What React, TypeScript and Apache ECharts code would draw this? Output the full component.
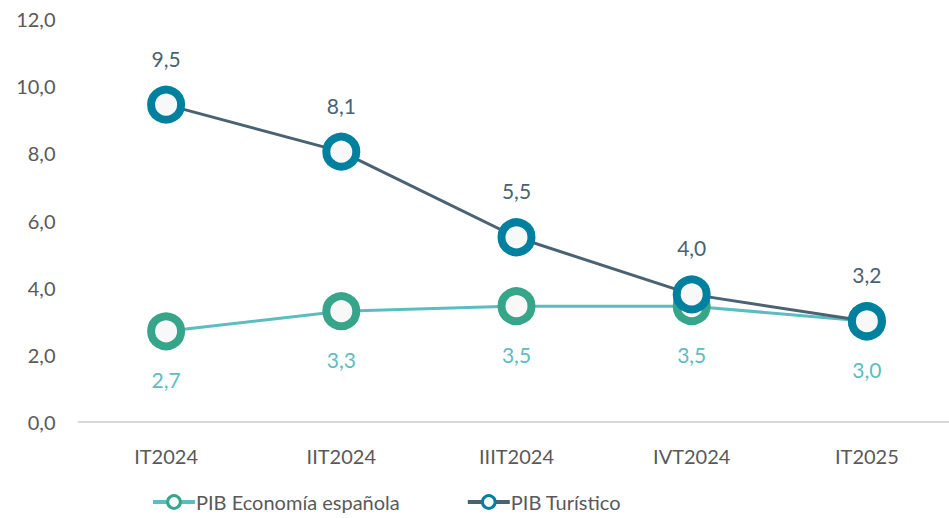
import React, { useEffect, useRef } from "react";
import * as echarts from "echarts";

const categories = ["IT2024", "IIT2024", "IIIT2024", "IVT2024", "IT2025"];
const economiaValues = [2.7, 3.3, 3.45, 3.45, 3.0];
const economiaLabels = ["2,7", "3,3", "3,5", "3,5", "3,0"];
const turisticoValues = [9.45, 8.05, 5.5, 3.8, 3.0];
const turisticoLabels = ["9,5", "8,1", "5,5", "4,0", "3,2"];
const yTicks = { min: 0, max: 12, interval: 2 };

const FONT = "Lato, 'Open Sans', sans-serif";

export default function App() {
  const ref = useRef<HTMLDivElement>(null);
  useEffect(() => {
    if (!ref.current) return;
    const chart = echarts.init(ref.current, null, { renderer: "svg" });
    chart.setOption({
      animation: false,
      backgroundColor: "#ffffff",
      textStyle: { fontFamily: FONT },
      grid: {
        left: 78.5,
        width: 876,
        top: 19,
        bottom: 96,
        containLabel: false,
        outerBoundsMode: "none",
      },
      legend: {
        left: 146,
        top: 487,
        itemWidth: 42,
        itemHeight: 16,
        itemGap: 66,
        itemStyle: { borderWidth: 3 },
        lineStyle: { width: 4 },
        textStyle: { fontFamily: FONT, fontSize: 20, color: "#595959", padding: [0, 0, 0, -4] },
        data: ["PIB Economía española", "PIB Turístico"],
      },
      xAxis: {
        type: "category",
        data: categories,
        boundaryGap: true,
        axisLine: { lineStyle: { color: "#D9D9D9", width: 2 } },
        axisTick: { show: false },
        axisLabel: { color: "#595959", fontSize: 20, margin: 24, fontFamily: FONT },
        splitLine: { show: false },
      },
      yAxis: {
        type: "value",
        min: yTicks.min,
        max: yTicks.max,
        interval: yTicks.interval,
        axisLine: { show: false },
        axisTick: { show: false },
        splitLine: { show: false },
        axisLabel: {
          color: "#595959",
          fontSize: 20,
          margin: 23,
          fontFamily: FONT,
          formatter: (v: number) => v.toFixed(1).replace(".", ","),
        },
      },
      series: [
        {
          name: "PIB Economía española",
          type: "line",
          data: economiaValues,
          symbol: "circle",
          symbolSize: 30,
          lineStyle: { color: "#5BBDBF", width: 3 },
          itemStyle: { color: "#F8F8F8", borderColor: "#36A58A", borderWidth: 8 },
          label: {
            show: true,
            position: "bottom",
            distance: 19,
            color: "#5BBDBF",
            fontSize: 21,
            fontFamily: FONT,
            formatter: (p: any) => economiaLabels[p.dataIndex],
          },
          z: 2,
        },
        {
          name: "PIB Turístico",
          type: "line",
          data: turisticoValues,
          symbol: "circle",
          symbolSize: 30,
          lineStyle: { color: "#4A6272", width: 3 },
          itemStyle: { color: "#F8F8F8", borderColor: "#00809F", borderWidth: 8 },
          label: {
            show: true,
            position: "top",
            distance: 17,
            color: "#4A6272",
            fontSize: 21,
            fontFamily: FONT,
            formatter: (p: any) => turisticoLabels[p.dataIndex],
          },
          z: 3,
        },
      ],
    });
    return () => chart.dispose();
  }, []);
  return (
    <div
      ref={ref}
      style={{ position: "fixed", left: 0, top: 0, width: 949, height: 518 }}
    />
  );
}
